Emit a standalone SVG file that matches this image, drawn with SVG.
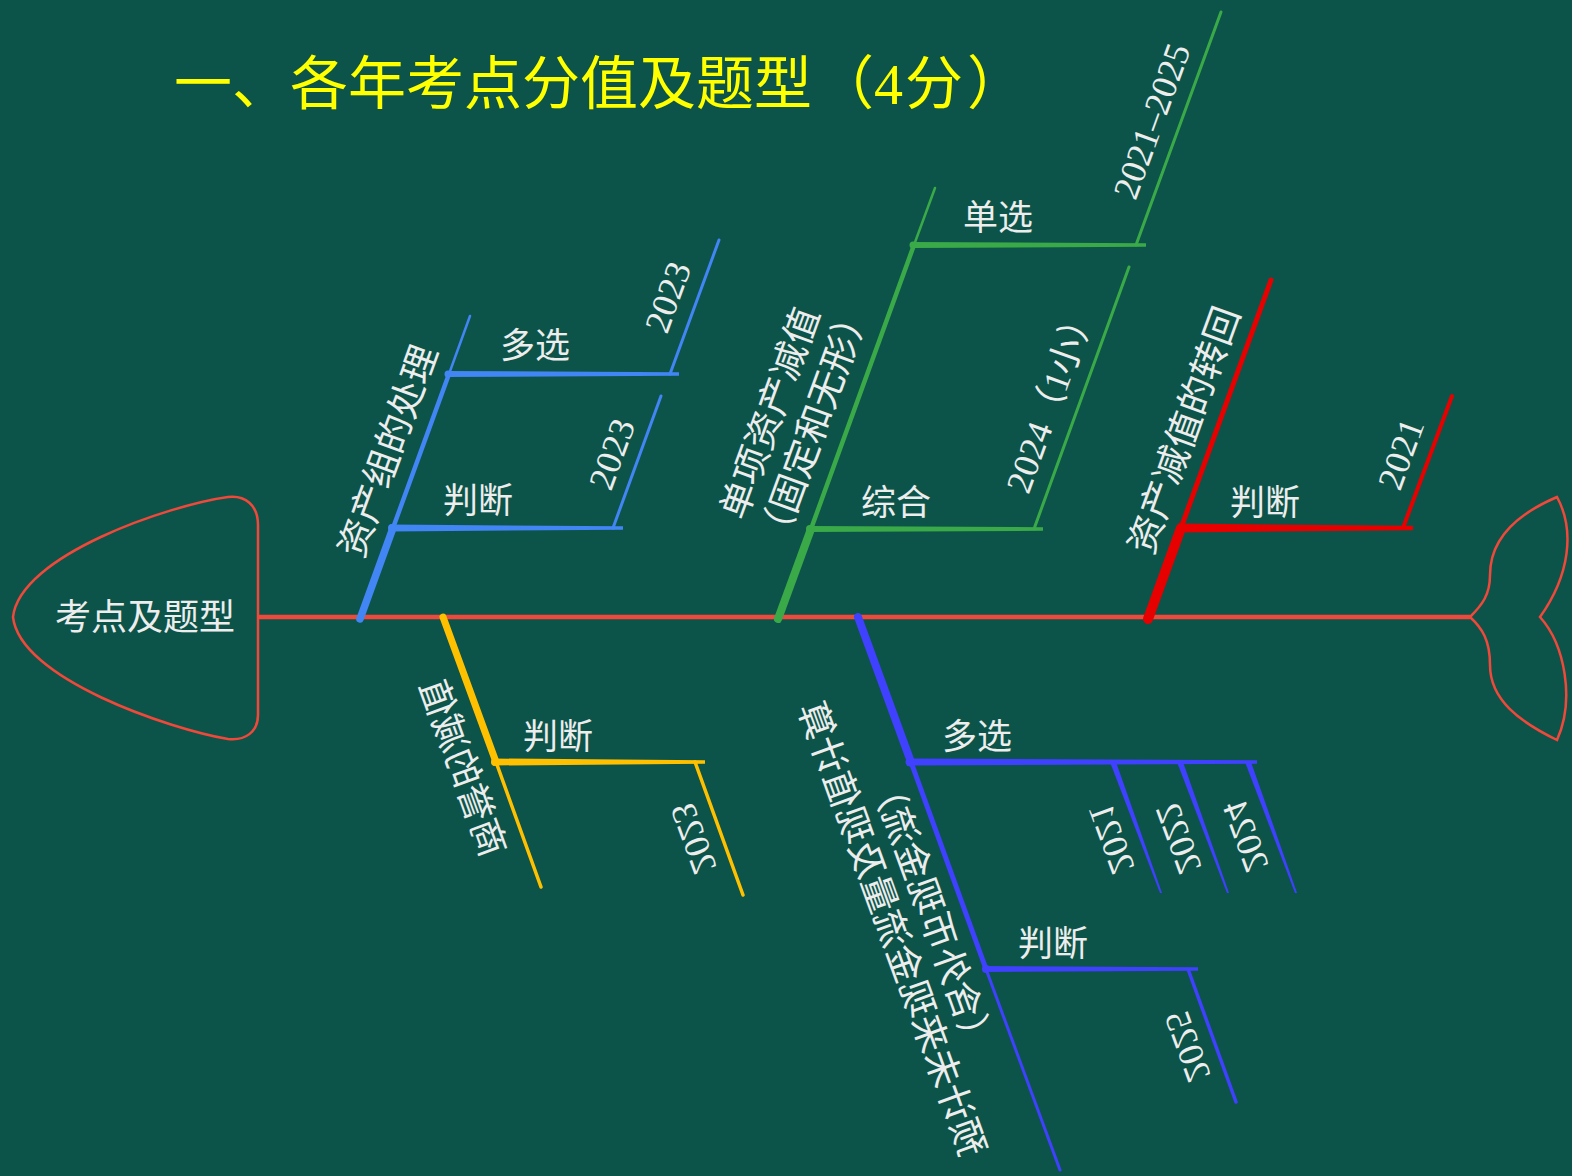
<svg xmlns="http://www.w3.org/2000/svg" width="1572" height="1176" viewBox="0 0 1572 1176">
<style>
.t{font-family:"Liberation Serif","Noto Sans CJK SC",serif;fill:#EDEDED}
.big{font-size:37px}
.sub{font-size:35px}
.yr{font-size:36px}
.title{font-family:"Liberation Serif","Noto Sans CJK SC",serif;font-size:58px;fill:#FFFF00}
.outline{fill:none;stroke:#F0483A;stroke-width:2.5}
.ln{fill:none;stroke-linecap:round}
.blue{stroke:#4285F4}.fblue{fill:#4285F4}
.green{stroke:#3AAA48}.fgreen{fill:#3AAA48}
.red{stroke:#E60000}.fred{fill:#E60000}
.yel{stroke:#FFC000}.fyel{fill:#FFC000}
.pur{stroke:#4040FF}.fpur{fill:#4040FF}
</style>
<rect x="0" y="0" width="1572" height="1176" fill="#0C5449"/>

<g id="title">
<text class="title" x="174" y="104">一、各年考点分值及题型<tspan x="816">（</tspan><tspan x="874">4</tspan><tspan x="905">分</tspan><tspan x="967">）</tspan></text>
</g>

<g id="connectors">
<line x1="258" y1="617" x2="1470" y2="617" stroke="#F0483A" stroke-width="4.5"/>
<!-- blue branch -->
<g class="ln blue">
<line x1="360" y1="619" x2="393" y2="528" stroke-width="7.5"/>
<line x1="393" y1="528" x2="449" y2="374" stroke-width="4.5"/>
<line x1="449" y1="374" x2="470" y2="316" stroke-width="2.5"/>
<line x1="613" y1="528" x2="661" y2="396" stroke-width="3"/>
<line x1="670" y1="374" x2="719" y2="240" stroke-width="3"/>
</g>
<g class="fblue">
<polygon points="390,524.5 623,526.25 623,529.75 390,531.5"/>
<polygon points="446,371 679,372.25 679,375.75 446,377"/>
<circle cx="392" cy="528" r="4"/><circle cx="448" cy="374" r="3.5"/>
</g>
<!-- green branch -->
<g class="ln green">
<line x1="778" y1="619" x2="811" y2="529" stroke-width="8"/>
<line x1="811" y1="529" x2="914" y2="245" stroke-width="4.5"/>
<line x1="914" y1="245" x2="935" y2="188" stroke-width="2.5"/>
<line x1="1034" y1="529" x2="1129" y2="267" stroke-width="3"/>
<line x1="1136" y1="245" x2="1221" y2="12" stroke-width="3"/>
</g>
<g class="fgreen">
<polygon points="808,526 1043,527.25 1043,530.75 808,532"/>
<polygon points="911,242 1146,243.25 1146,246.75 911,248"/>
<circle cx="810" cy="529" r="4"/><circle cx="913" cy="245" r="3.5"/>
</g>
<!-- red branch -->
<g class="ln red">
<line x1="1148" y1="619" x2="1181" y2="528" stroke-width="10"/>
<line x1="1181" y1="528" x2="1271" y2="280" stroke-width="5"/>
<line x1="1403" y1="528" x2="1452" y2="396" stroke-width="4"/>
</g>
<g class="fred">
<polygon points="1178,523.5 1413,525.75 1413,530.25 1178,532.5"/>
</g>
<!-- yellow branch -->
<g class="ln yel">
<line x1="443" y1="617" x2="496" y2="762" stroke-width="7"/>
<line x1="496" y1="762" x2="541" y2="887" stroke-width="3.5"/>
<line x1="695" y1="762" x2="743" y2="895" stroke-width="3.5"/>
</g>
<g class="fyel">
<polygon points="493,758.5 705,760.25 705,763.75 493,765.5"/>
<circle cx="495" cy="762" r="4"/>
</g>
<!-- purple branch -->
<g class="ln pur">
<line x1="858" y1="617" x2="911" y2="762" stroke-width="8"/>
<line x1="911" y1="762" x2="986" y2="969" stroke-width="5"/>
<line x1="986" y1="969" x2="1060" y2="1170" stroke-width="3"/>
<line x1="1188" y1="969" x2="1236" y2="1102" stroke-width="3.5"/>
</g>
<g class="fpur">
<polygon points="908,758.5 1257,760.25 1257,763.75 908,765.5"/>
<polygon points="983,966 1198,967.25 1198,970.75 983,972"/>
<polygon points="1110,762 1116,762 1162,893 1160,893"/>
<polygon points="1177,762 1183,762 1229,893 1227,893"/>
<polygon points="1245,762 1251,762 1297,893 1295,893"/>
<circle cx="910" cy="762" r="4.5"/><circle cx="986" cy="969" r="4"/>
</g>
</g>

<g id="head">
<path class="outline" d="M258,715 L258,525 C258,505 245,495 228,497 C170,505 20,555 13,617 C20,679 170,729 228,739 C245,741 258,732 258,715 Z"/>
<text class="t" x="55" y="630" font-size="36">考点及题型</text>
</g>

<g id="tail">
<path class="outline" d="M1470,617 C1482,605 1490,595 1490,575 C1490,540 1515,515 1557,497 C1575,530 1570,575 1540,617 C1565,645 1575,700 1557,740 C1520,722 1490,700 1490,665 C1490,640 1482,628 1470,617 Z"/>
</g>

<g id="node-asset-group">
<text class="t big" transform="translate(388,451) rotate(-70)" y="13" text-anchor="middle">资产组的处理</text>
</g>
<g id="node-asset-group-multi">
<text class="t sub" x="535" y="358" text-anchor="middle">多选</text>
<text class="t yr" transform="translate(668,297) rotate(-70)" y="12" text-anchor="middle">2023</text>
</g>
<g id="node-asset-group-judge">
<text class="t sub" x="478" y="513" text-anchor="middle">判断</text>
<text class="t yr" transform="translate(612,454) rotate(-70)" y="12" text-anchor="middle">2023</text>
</g>

<g id="node-single-asset">
<text class="t big" transform="translate(770,413) rotate(-70)" y="13" text-anchor="middle">单项资产减值</text>
<text class="t big" transform="translate(814,424) rotate(-70)" y="13" text-anchor="middle">（固定和无形）</text>
</g>
<g id="node-single-asset-single">
<text class="t sub" x="998" y="230" text-anchor="middle">单选</text>
<text class="t yr" transform="translate(1152,121) rotate(-70)" y="12" text-anchor="middle">2021–2025</text>
</g>
<g id="node-single-asset-comp">
<text class="t sub" x="896" y="515" text-anchor="middle">综合</text>
<text class="t yr" transform="translate(1051,398) rotate(-70)" y="12" text-anchor="middle">2024（1小）</text>
</g>

<g id="node-reversal">
<text class="t big" transform="translate(1184,430) rotate(-70)" y="13" text-anchor="middle">资产减值的转回</text>
</g>
<g id="node-reversal-judge">
<text class="t sub" x="1265" y="515" text-anchor="middle">判断</text>
<text class="t yr" transform="translate(1401,454) rotate(-70)" y="12" text-anchor="middle">2021</text>
</g>

<g id="node-goodwill">
<text class="t big" transform="translate(463,768) scale(-1,1) rotate(-70)" y="13" text-anchor="middle">商誉的减值</text>
</g>
<g id="node-goodwill-judge">
<text class="t sub" x="558" y="749" text-anchor="middle">判断</text>
<text class="t yr" transform="translate(694,838) scale(-1,1) rotate(-70)" y="12" text-anchor="middle">2023</text>
</g>

<g id="node-cashflow">
<text class="t big" transform="translate(892,929) scale(-1,1) rotate(-70)" y="13" text-anchor="middle">预计未来现金流量及现值计算</text>
<text class="t big" transform="translate(932,913) scale(-1,1) rotate(-70)" y="13" text-anchor="middle">（含外币现金流）</text>
</g>
<g id="node-cashflow-multi">
<text class="t sub" x="977" y="749" text-anchor="middle">多选</text>
<text class="t yr" transform="translate(1112,838) scale(-1,1) rotate(-70)" y="12" text-anchor="middle">2021</text>
<text class="t yr" transform="translate(1179,838) scale(-1,1) rotate(-70)" y="12" text-anchor="middle">2022</text>
<text class="t yr" transform="translate(1246,836) scale(-1,1) rotate(-70)" y="12" text-anchor="middle">2024</text>
</g>
<g id="node-cashflow-judge">
<text class="t sub" x="1053" y="956" text-anchor="middle">判断</text>
<text class="t yr" transform="translate(1188,1046) scale(-1,1) rotate(-70)" y="12" text-anchor="middle">2025</text>
</g>
</svg>
